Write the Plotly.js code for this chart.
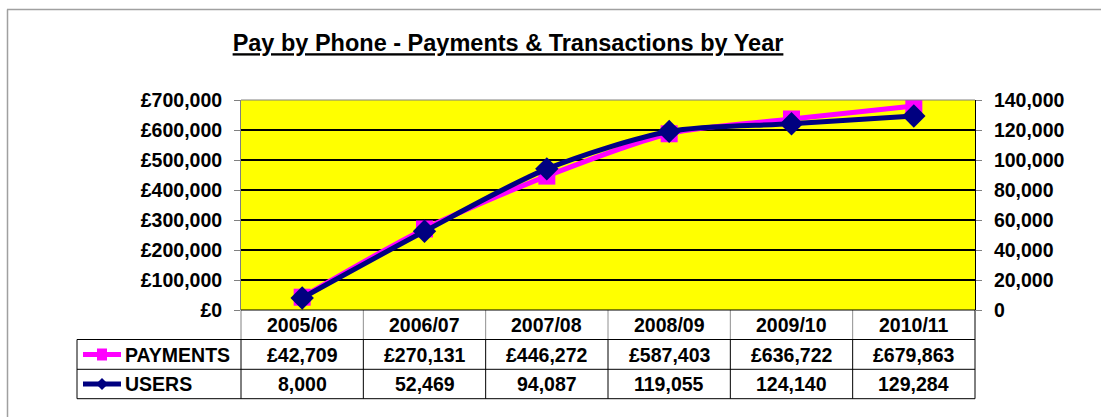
<!DOCTYPE html>
<html>
<head>
<meta charset="utf-8">
<script src="https://cdn.plot.ly/plotly-3.0.1.min.js"></script>
<style>
  html, body { margin: 0; padding: 0; background: #ffffff; }
  #chart { width: 1101px; height: 417px; }
</style>
</head>
<body>
<div id="chart"></div>
<script>
var categories = ['2005/06', '2006/07', '2007/08', '2008/09', '2009/10', '2010/11'];
var payments = [42709, 270131, 446272, 587403, 636722, 679863];
var users = [8000, 52469, 94087, 119055, 124140, 129284];
var seriesNames = ['PAYMENTS', 'USERS'];
var chartTitle = 'Pay by Phone - Payments & Transactions by Year';

var FONT = 'Liberation Sans, Arial, sans-serif';
var MAGENTA = '#FF00FF';
var NAVY = '#000080';

function fmt(n) {
  return String(n).replace(/\B(?=(\d{3})+(?!\d))/g, ',');
}

var idx = categories.map(function (c, i) { return i; });

var traces = [
  {
    x: idx, y: payments, name: seriesNames[0], type: 'scatter', mode: 'lines+markers',
    line: { color: MAGENTA, width: 5, shape: 'spline', smoothing: 0.8 },
    marker: { symbol: 'square', size: 17, color: MAGENTA },
    yaxis: 'y', hoverinfo: 'skip'
  },
  {
    x: idx, y: users, name: seriesNames[1], type: 'scatter', mode: 'lines+markers',
    line: { color: NAVY, width: 5, shape: 'spline', smoothing: 0.8 },
    marker: { symbol: 'diamond', size: 18, color: NAVY },
    yaxis: 'y2', hoverinfo: 'skip'
  }
];

// geometry helpers (paper coords)
var PT = 100, PB = 310, PL = 241, PR = 975;
function py(p) { return (PB - p) / (PB - PT); }
function px(p) { return (p - PL) / (PR - PL); }

var rowTop = py(339.5), rowMid = py(369.3), rowBot = py(398.7);
var hdrC = py(325), payC = py(354.5), usrC = py(384);
var leftCol = px(77);

var shapes = [];
// plot border (top)
shapes.push({ type: 'line', xref: 'paper', yref: 'paper', x0: 0, x1: 1, y0: 1, y1: 1, line: { color: '#808080', width: 1 } });
// outer chart border
shapes.push({ type: 'line', xref: 'paper', yref: 'paper', x0: px(7), x1: px(1101), y0: py(9.5), y1: py(9.5), line: { color: '#a0a0a0', width: 1.5 } });
shapes.push({ type: 'line', xref: 'paper', yref: 'paper', x0: px(7.5), x1: px(7.5), y0: py(9.5), y1: py(417), line: { color: '#a0a0a0', width: 1.5 } });

// table: header row verticals (gray), data rows (black)
for (var i = 0; i < categories.length - 1; i++) {
  shapes.push({ type: 'line', xref: 'x', yref: 'paper', x0: i + 0.5, x1: i + 0.5, y0: 0, y1: rowTop, line: { color: '#909090', width: 1 } });
  shapes.push({ type: 'line', xref: 'x', yref: 'paper', x0: i + 0.5, x1: i + 0.5, y0: rowTop, y1: rowBot, line: { color: '#000000', width: 1 } });
}
shapes.push({ type: 'line', xref: 'paper', yref: 'paper', x0: 0, x1: 0, y0: 0, y1: rowTop, line: { color: '#808080', width: 1 } });
shapes.push({ type: 'line', xref: 'paper', yref: 'paper', x0: 0, x1: 0, y0: rowTop, y1: rowBot, line: { color: '#000000', width: 1 } });
shapes.push({ type: 'line', xref: 'paper', yref: 'paper', x0: 1, x1: 1, y0: 0, y1: rowBot, line: { color: '#000000', width: 1 } });
shapes.push({ type: 'line', xref: 'paper', yref: 'paper', x0: leftCol, x1: leftCol, y0: rowTop, y1: rowBot, line: { color: '#000000', width: 1 } });
[rowTop, rowMid, rowBot].forEach(function (yy) {
  shapes.push({ type: 'line', xref: 'paper', yref: 'paper', x0: leftCol, x1: 1, y0: yy, y1: yy, line: { color: '#000000', width: 1 } });
});
shapes.push({ type: 'line', xref: 'paper', yref: 'paper', x0: 0, x1: 1, y0: 0, y1: 0, line: { color: '#000000', width: 1 } });

// legend keys in table
function pathToPaper(cx, cy) {
  var pts = [[cx - 6, cy], [cx, cy - 6], [cx + 6, cy], [cx, cy + 6]];
  return 'M' + pts.map(function (p) { return px(p[0]) + ',' + py(p[1]); }).join(' L') + ' Z';
}
function key(yc, color, sym) {
  shapes.push({ type: 'line', xref: 'paper', yref: 'paper', x0: px(83), x1: px(121), y0: yc, y1: yc, line: { color: color, width: 5 } });
  if (sym === 'square') {
    shapes.push({ type: 'rect', xref: 'paper', yref: 'paper', x0: px(97), x1: px(107), y0: yc + 6 / 210, y1: yc - 6 / 210, fillcolor: color, line: { width: 0 } });
  } else {
    var cy = 310 - yc * 210;
    shapes.push({ type: 'path', xref: 'paper', yref: 'paper', path: pathToPaper(102, cy), fillcolor: color, line: { width: 0 } });
  }
}
key(payC, MAGENTA, 'square');
key(usrC, NAVY, 'diamond');

var annotations = [];
var cellFont = { family: FONT, size: 19.5, color: '#000000' };
categories.forEach(function (c, i) {
  annotations.push({ x: i, y: hdrC, xref: 'x', yref: 'paper', text: '<b>' + c + '</b>', showarrow: false, font: cellFont, xanchor: 'center', yanchor: 'middle' });
  annotations.push({ x: i, y: payC, xref: 'x', yref: 'paper', text: '<b>£' + fmt(payments[i]) + '</b>', showarrow: false, font: cellFont, xanchor: 'center', yanchor: 'middle' });
  annotations.push({ x: i, y: usrC, xref: 'x', yref: 'paper', text: '<b>' + fmt(users[i]) + '</b>', showarrow: false, font: cellFont, xanchor: 'center', yanchor: 'middle' });
});
annotations.push({ x: px(123), y: payC, xref: 'paper', yref: 'paper', text: '<b>' + seriesNames[0] + '</b>', showarrow: false, font: cellFont, xanchor: 'left', yanchor: 'middle' });
annotations.push({ x: px(123), y: usrC, xref: 'paper', yref: 'paper', text: '<b>' + seriesNames[1] + '</b>', showarrow: false, font: cellFont, xanchor: 'left', yanchor: 'middle' });

var tickFont = { family: FONT, size: 19.5, color: '#000000', weight: 'bold' };

var layout = {
  width: 1101, height: 417,
  margin: { l: PL, r: 1101 - PR, t: PT, b: 417 - PB, pad: 0 },
  paper_bgcolor: '#ffffff',
  plot_bgcolor: '#FFFF00',
  showlegend: false,
  title: {
    text: '<b><u>' + chartTitle.replace('&', '&amp;') + '</u></b>',
    font: { family: FONT, size: 23.5, color: '#000000' },
    x: 508 / 1101, xanchor: 'center', xref: 'container',
    y: 1 - 43 / 417, yanchor: 'middle', yref: 'container'
  },
  xaxis: {
    type: 'linear', range: [-0.5, categories.length - 0.5],
    showticklabels: false, showgrid: false, zeroline: false, ticks: '', showline: false, fixedrange: true
  },
  yaxis: {
    range: [0, 700000], dtick: 100000, tick0: 0,
    tickprefix: '£', tickformat: ',d',
    showgrid: true, gridcolor: '#000000', gridwidth: 1.5,
    zeroline: false, showline: true, linecolor: '#808080', linewidth: 1,
    ticks: 'outside', ticklen: 6, tickcolor: '#808080', tickwidth: 1,
    tickfont: tickFont, ticklabelstandoff: 8, fixedrange: true
  },
  yaxis2: {
    range: [0, 140000], dtick: 20000, tick0: 0, tickformat: ',d',
    overlaying: 'y', side: 'right',
    showgrid: false, zeroline: false, showline: true, linecolor: '#000000', linewidth: 1,
    ticks: 'outside', ticklen: 6, tickcolor: '#808080', tickwidth: 1,
    tickfont: tickFont, ticklabelstandoff: 8, fixedrange: true
  },
  shapes: shapes,
  annotations: annotations
};

Plotly.newPlot('chart', traces, layout, { displayModeBar: false, staticPlot: true });
</script>
</body>
</html>
